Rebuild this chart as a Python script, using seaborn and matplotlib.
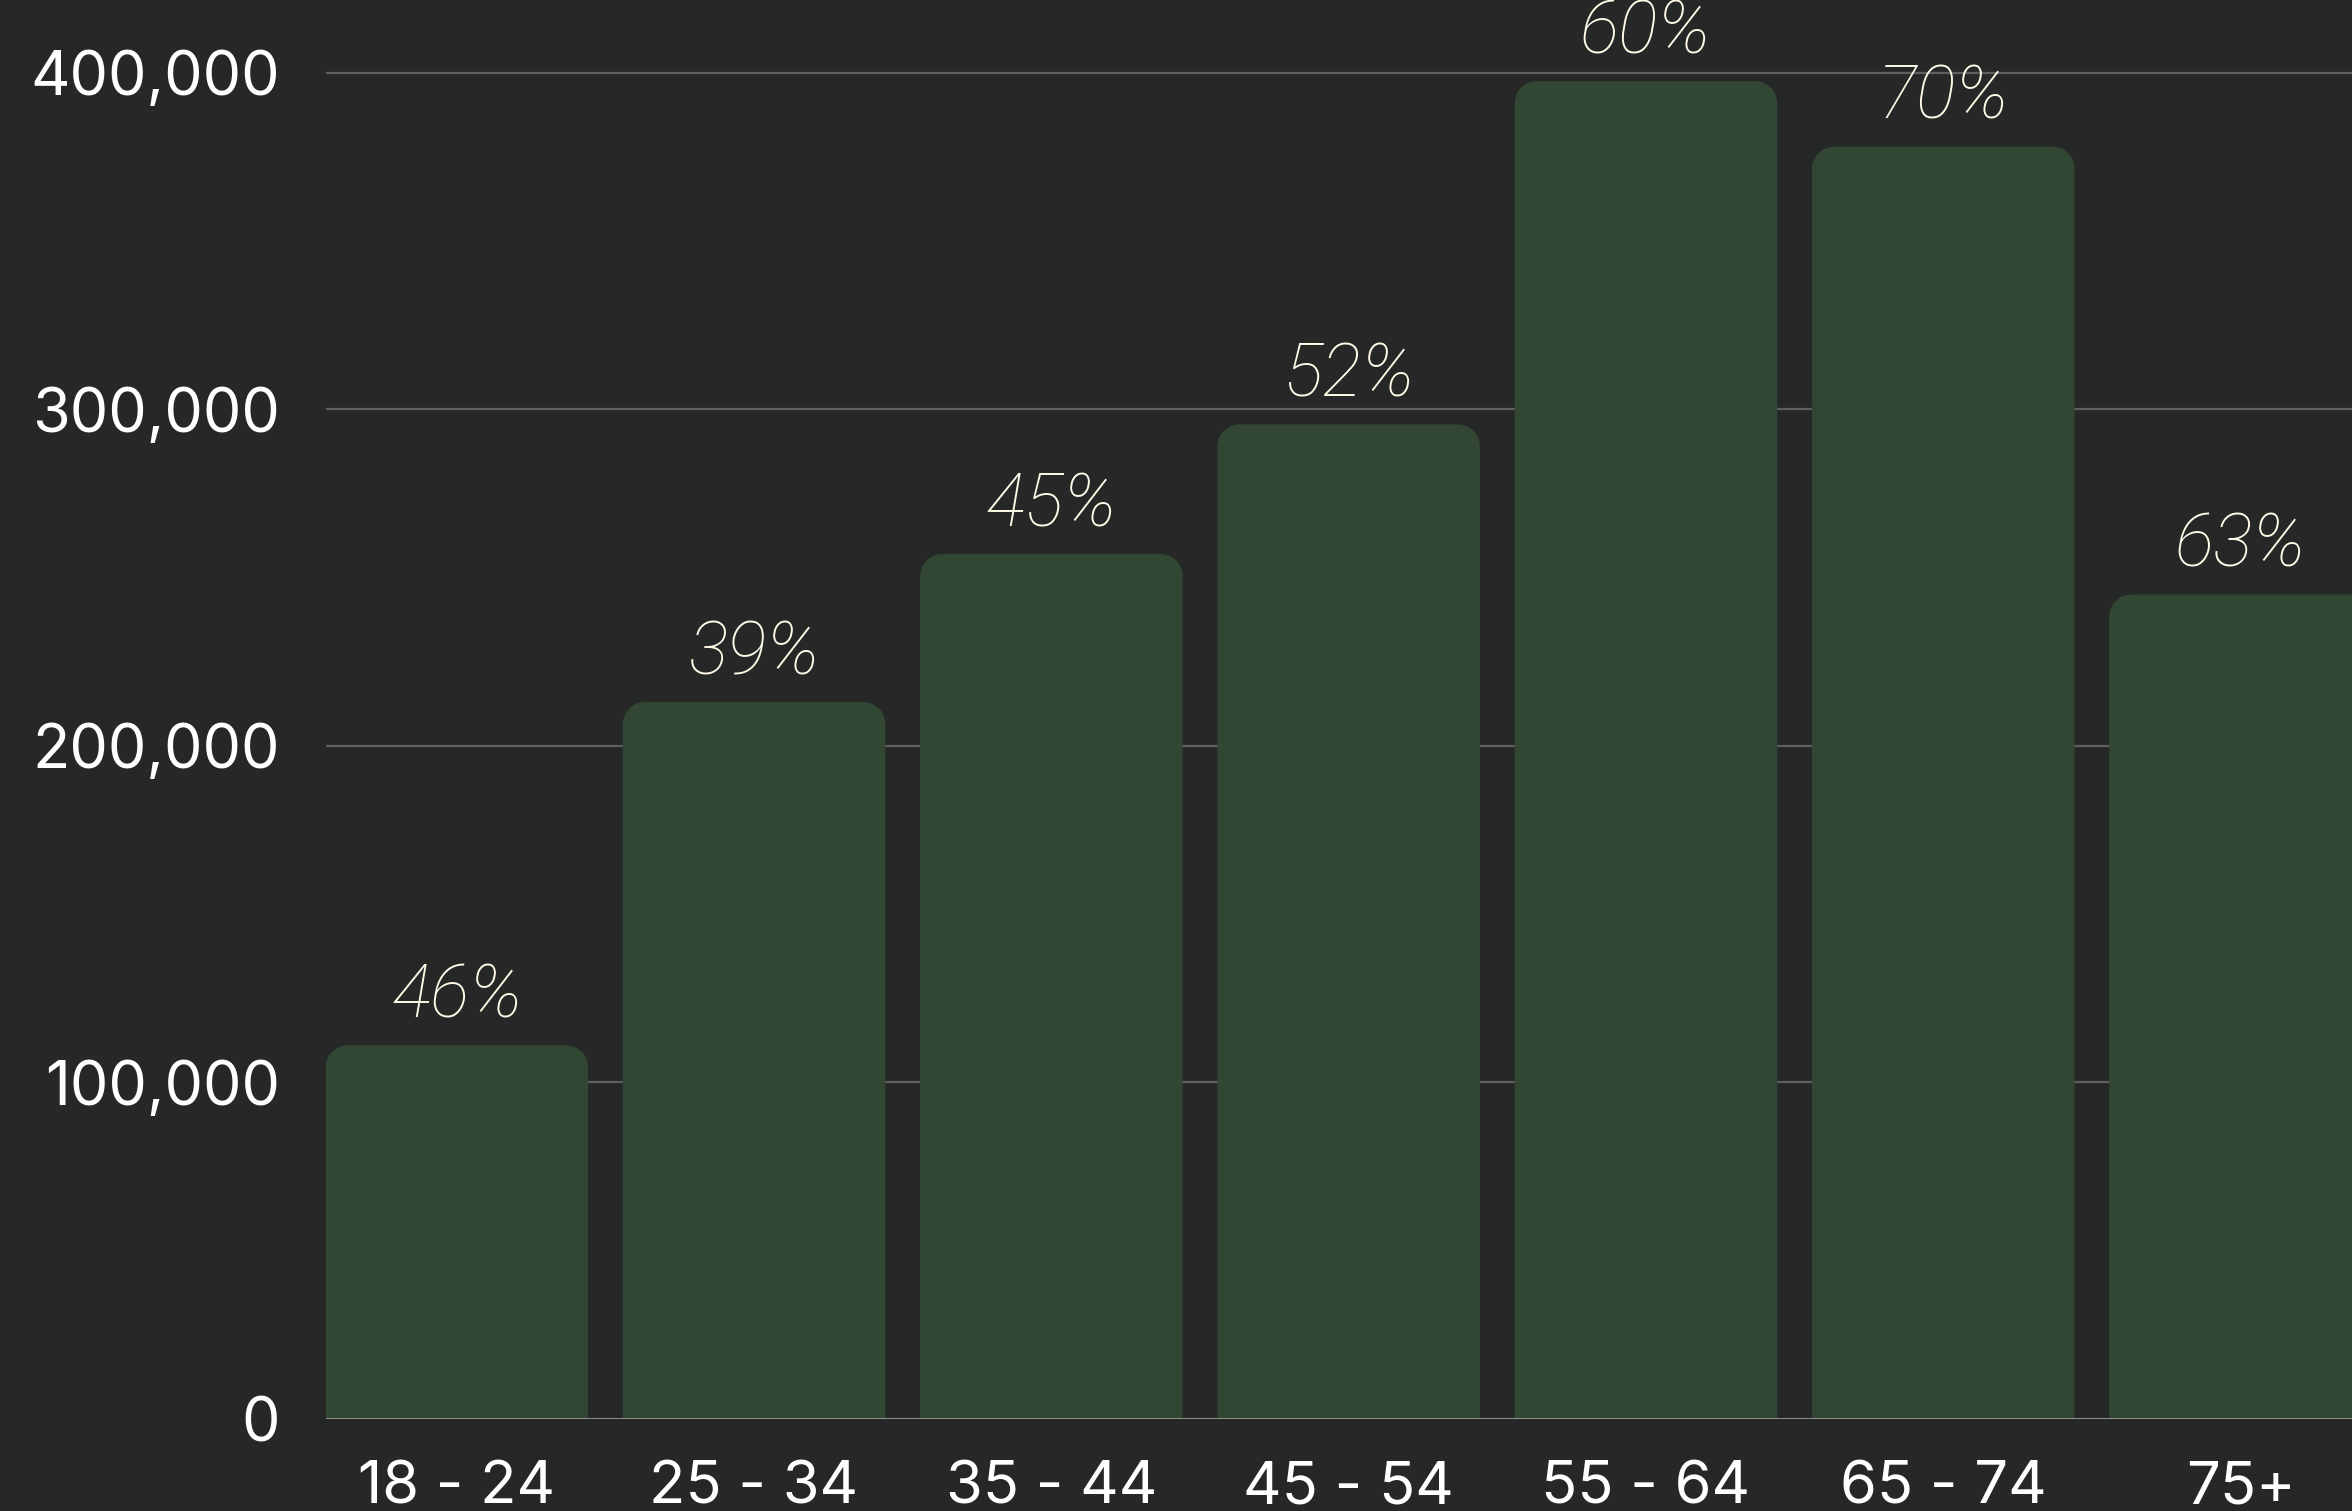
import matplotlib
matplotlib.use("Agg")
import matplotlib.pyplot as plt
import seaborn as sns
import pandas as pd
import numpy as np
from matplotlib.path import Path
from matplotlib.patches import PathPatch
from matplotlib.ticker import FuncFormatter

age_groups = ["18 - 24", "25 - 34", "35 - 44", "45 - 54", "55 - 64", "65 - 74", "75+"]
counts = [111000, 213000, 257000, 295500, 397500, 378000, 245000]
pct_labels = ["46%", "39%", "45%", "52%", "60%", "70%", "63%"]
y_ticks = [0, 100000, 200000, 300000, 400000]

BG = "#262827"
BAR = "#314633"
GRID = "#5e5f5e"
BASE = "#a3a3a3"
TXT = "#ffffff"
PCT = "#fffbe8"

sns.set_theme(style="dark")
plt.rcParams["font.family"] = ["Inter", "DejaVu Sans"]

df = pd.DataFrame({"age": age_groups, "count": counts})

fig = plt.figure(figsize=(23.52, 15.11), dpi=100, facecolor=BG)
ax = fig.add_axes([0.1384, 0.0609, 0.8616, 0.9391])
ax.set_facecolor(BG)

sns.barplot(data=df, x="age", y="count", color=BAR, width=0.883,
            saturation=1, ax=ax, zorder=2)

ax.set_xlim(-0.4415, 6.375)
ax.set_ylim(0, 421600)

# rounded top corners
x_px = ax.transData.transform([(0, 0), (1, 100000)])
px_per_x = x_px[1, 0] - x_px[0, 0]
px_per_y = (x_px[1, 1] - x_px[0, 1]) / 100000
r_px = 22
rx = r_px / px_per_x
ry = r_px / px_per_y
k = 0.5523
for p in list(ax.patches):
    x0 = p.get_x(); w = p.get_width(); h = p.get_height()
    x1 = x0 + w
    verts = [
        (x0, 0), (x0, h - ry),
        (x0, h - ry + k * ry), (x0 + rx - k * rx, h), (x0 + rx, h),
        (x1 - rx, h),
        (x1 - rx + k * rx, h), (x1, h - ry + k * ry), (x1, h - ry),
        (x1, 0), (x0, 0),
    ]
    codes = [Path.MOVETO, Path.LINETO,
             Path.CURVE4, Path.CURVE4, Path.CURVE4,
             Path.LINETO,
             Path.CURVE4, Path.CURVE4, Path.CURVE4,
             Path.LINETO, Path.CLOSEPOLY]
    pp = PathPatch(Path(verts, codes), facecolor=BAR, edgecolor="none", zorder=2)
    ax.add_patch(pp)
    p.set_visible(False)

# grid
for yv in y_ticks[1:]:
    ax.axhline(yv, color=GRID, lw=1.6, zorder=1)
ax.axhline(0, color=BASE, lw=1.2, zorder=3)

# percentage labels
for i, (v, lab) in enumerate(zip(counts, pct_labels)):
    ax.annotate(lab, (i, v), xytext=(0, 20), textcoords="offset points",
                ha="center", va="baseline", color=PCT, fontsize=53,
                fontstyle="italic", fontweight="light",
                family=["Roboto", "DejaVu Sans"], zorder=4, annotation_clip=False)

ax.set_yticks(y_ticks)
ax.yaxis.set_major_formatter(FuncFormatter(lambda v, _: f"{v:,.0f}"))
ax.tick_params(axis="y", length=0, pad=33, labelsize=44, labelcolor=TXT)
ax.tick_params(axis="x", length=0, pad=30, labelsize=43, labelcolor=TXT)
ax.set_xlabel("")
ax.set_ylabel("")
for s in ax.spines.values():
    s.set_visible(False)
ax.grid(False)

fig.savefig("out.png", dpi=100, facecolor=BG)
